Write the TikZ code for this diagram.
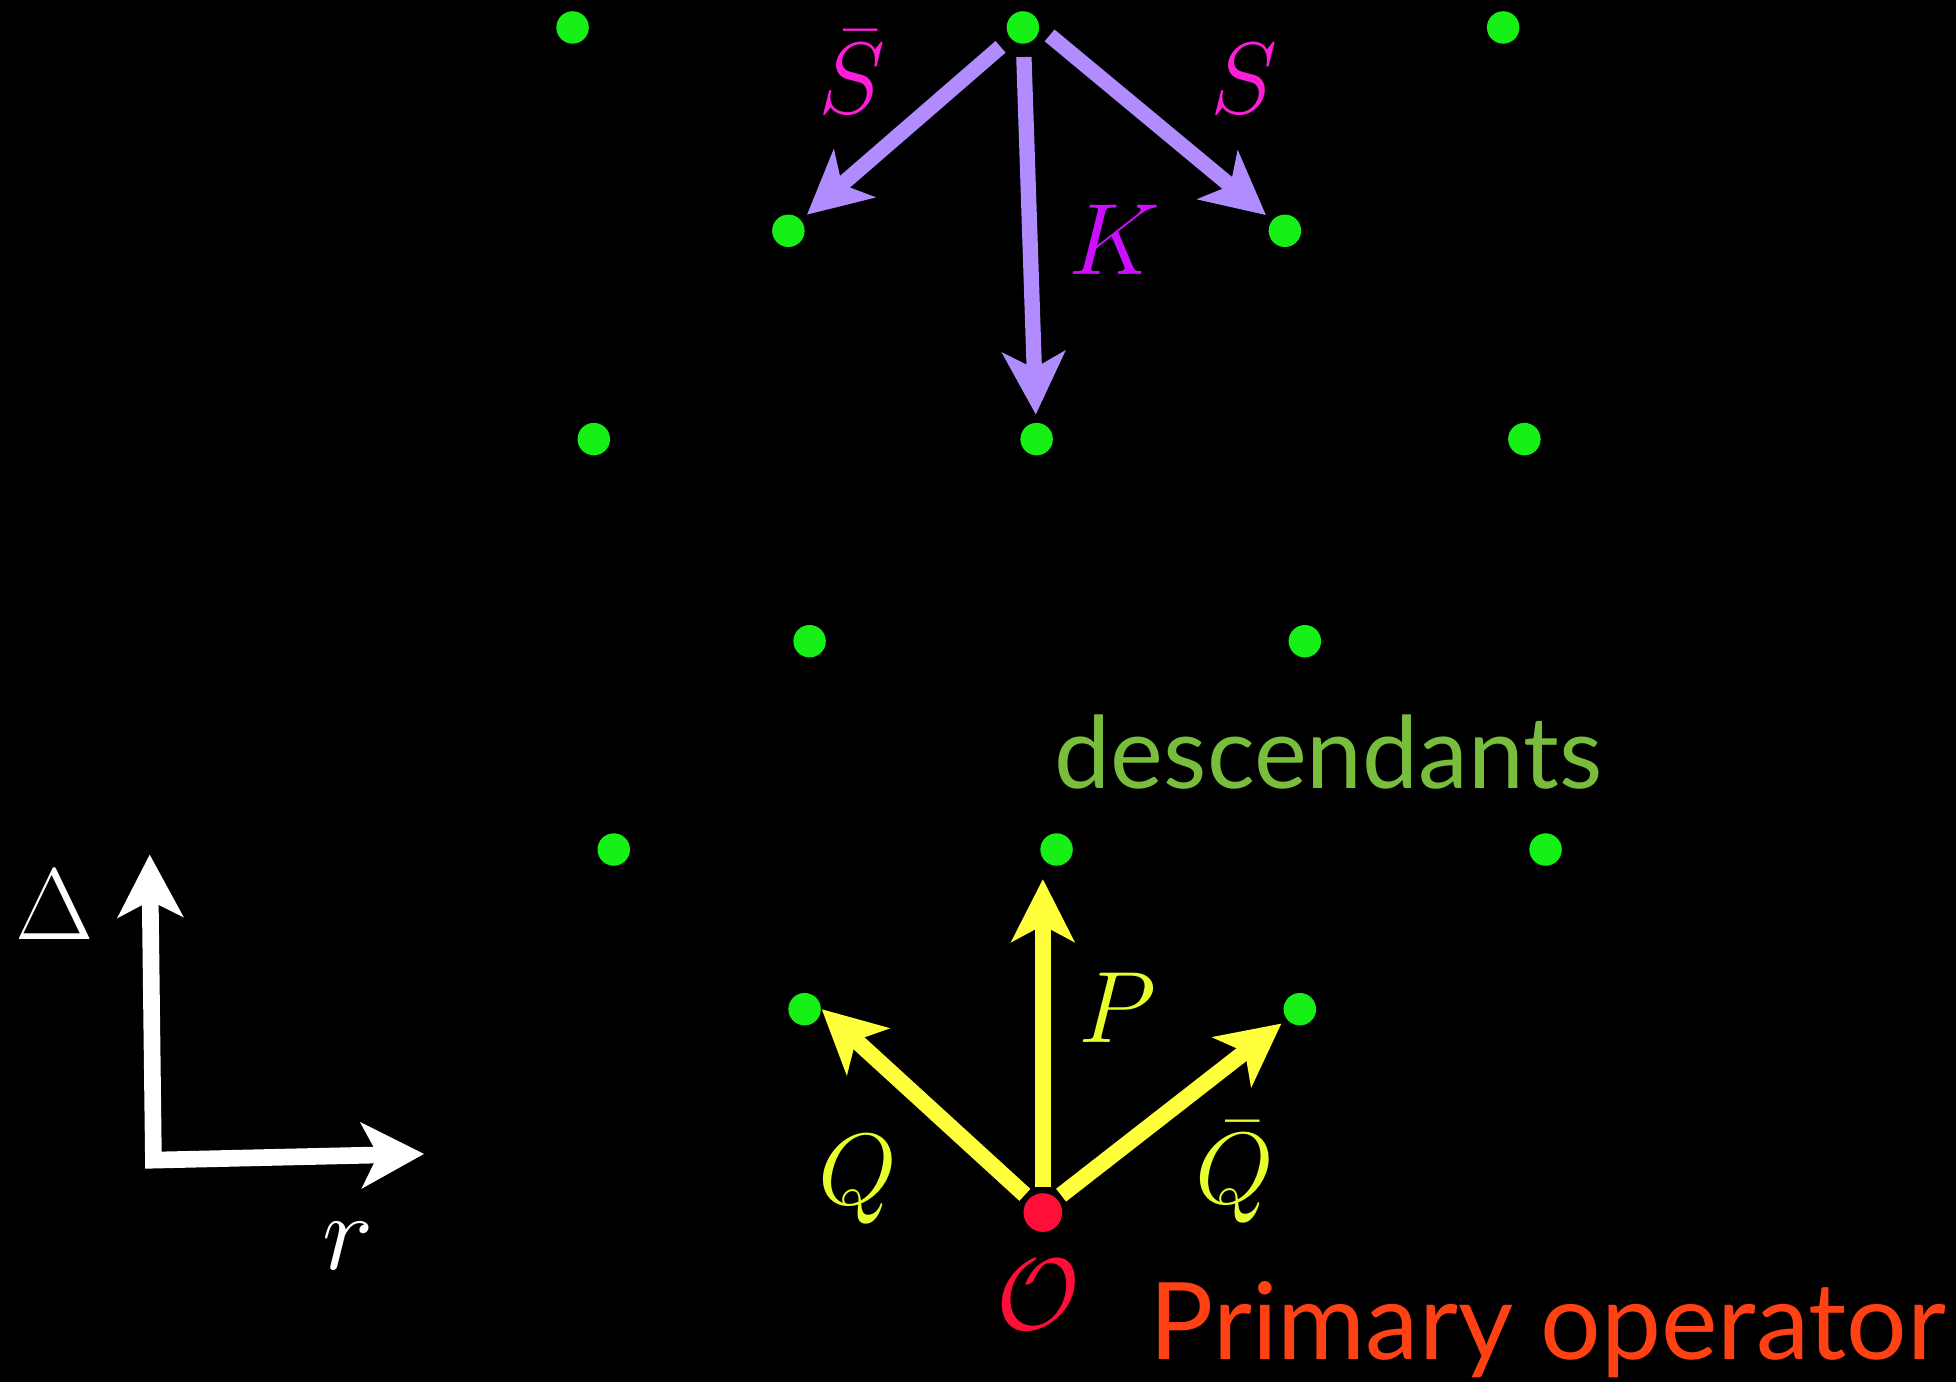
\documentclass[tikz,border=0pt]{standalone}
\usepackage{amsmath,amssymb}
\usepackage{fontspec}
\setsansfont{Lato}
\usepackage{xcolor}
\usepackage{tikz}
\usetikzlibrary{arrows.meta,positioning}

\definecolor{dotgreen}{RGB}{22,240,22}
\definecolor{lav}{RGB}{176,140,255}
\definecolor{pinkS}{RGB}{255,30,215}
\definecolor{violK}{RGB}{205,15,255}
\definecolor{yel}{RGB}{255,255,60}
\definecolor{yellab}{RGB}{232,255,45}
\definecolor{primred}{RGB}{255,15,55}
\definecolor{oprred}{RGB}{255,65,20}
\definecolor{descgreen}{RGB}{120,190,60}

\newcommand{\bigmath}[1]{\scalebox{0.93}{\Huge$#1$}}

\begin{document}
\begin{tikzpicture}[
  x=0.01cm, y=-0.01cm,
  dot/.style={circle, fill=dotgreen, inner sep=0pt, minimum size=0.26cm},
  primary/.style={circle, fill=primred, inner sep=0pt, minimum size=0.31cm},
  lowering/.style={-{Stealth[length=5mm,width=5mm,inset=1.3mm]}, line width=3.5pt, lav, shorten <=0.1cm, shorten >=0.06cm},
  raising/.style={-{Stealth[length=5mm,width=5mm,inset=1.3mm]}, line width=3.7pt, yel, shorten <=0.04cm},
  axis/.style={{Stealth[length=5mm,width=5.2mm,inset=1.3mm]}-{Stealth[length=5mm,width=5.2mm,inset=1.3mm]}, white, line width=3.8pt, line join=miter},
  lbl/.style={inner sep=0pt},
  word/.style={font=\fontsize{22.8}{26}\selectfont\sffamily, inner sep=0pt}
]
\useasboundingbox (0,0) rectangle (1568,1108);
\fill[black] (0,0) rectangle (1568,1108);

% descendant lattice
\node[dot] (t1) at (459,22) {};
\node[dot] (t2) at (820,22) {};
\node[dot] (t3) at (1205,22) {};
\node[dot] (u1) at (632,185) {};
\node[dot] (u2) at (1030,185) {};
\node[dot] (m1) at (476,352) {};
\node[dot] (m2) at (831,352) {};
\node[dot] (m3) at (1222,352) {};
\node[dot] (v1) at (649,514) {};
\node[dot] (v2) at (1046,514) {};
\node[dot] (b1) at (492,681) {};
\node[dot] (b2) at (847,681) {};
\node[dot] (b3) at (1239,681) {};
\node[dot] (w1) at (645,809) {};
\node[dot] (w2) at (1042,809) {};
\node[primary] (O) at (836,972) {};

% lowering operators
\draw[lowering] (t2) -- (u1);
\draw[lowering] (t2) -- (m2);
\draw[lowering] (t2.east) -- (u2);
\node[lbl, pinkS] (sbar) at (683,58) {\bigmath{\bar S}};
\node[lbl, pinkS] (s) at (997,63) {\bigmath{S}};
\node[lbl, violK] (k) at (893,192) {\bigmath{K}};

% raising operators
\draw[raising] (O.north west) -- (w1.east);
\draw[raising, shorten >=0.1cm] (O.north) -- (O.north |- b2.south);
\draw[raising, shorten >=0.05cm] (O.north east) -- (w2);
\node[lbl, yellab] (p) at (896,808) {\bigmath{P}};
\node[lbl, yellab] (q) at (688,946) {\bigmath{Q}};
\node[lbl, yellab] (qbar) at (990,940) {\bigmath{\bar Q}};

\node[lbl, primred] (olab) at (832,1038) {\bigmath{\mathcal{O}}};
\node[word, descgreen, anchor=base west] (desc) at (845,632) {descendants};
\node[word, oprred, anchor=base west, font=\fontsize{24.4}{28}\selectfont\sffamily] (prim) at (921,1090) {Primary operator};

% axes
\coordinate (dtip) at (120,685);
\coordinate (corner) at (123,930);
\coordinate (rtip) at (340,925);
\draw[axis] (dtip) -- (corner) -- (rtip);
\node[lbl, white] (dlab) at (44,725) {\bigmath{\Delta}};
\node[lbl, white] (rlab) at (279,999) {\Huge$r$};
\end{tikzpicture}
\end{document}
